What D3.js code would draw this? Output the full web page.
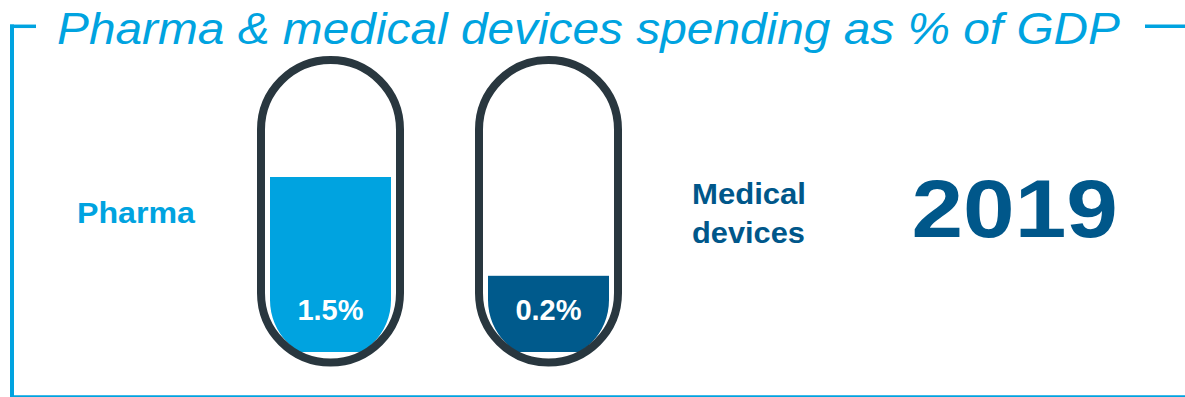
<!DOCTYPE html>
<html>
<head>
<meta charset="utf-8">
<script src="https://cdn.jsdelivr.net/npm/d3@7"></script>
<style>
  html, body { margin: 0; padding: 0; background: #ffffff; }
  svg { display: block; }
  text { font-family: "Liberation Sans", Arial, sans-serif; }
</style>
</head>
<body>
<svg id="chart" width="1185" height="397"></svg>
<script>
// Spending shares of GDP, 2019
const categories = ["Pharma", "Medical devices"];
const values = [1.5, 0.2];
const valueLabels = ["1.5%", "0.2%"];
const yearLabel = "2019";
const titleText = "Pharma & medical devices spending as % of GDP";

const W = 1185, H = 397;
const lightBlue = "#00a3e0";
const darkBlue = "#00578a";
const fillColors = [lightBlue, "#005a8c"];
const labelColors = [lightBlue, darkBlue];
const outline = "#29373f";

const svg = d3.select("#chart");

// Frame: left bracket, short top ticks and a bottom rule
const frame = svg.append("g").attr("stroke", lightBlue).attr("fill", "none");
frame.append("line").attr("x1", 12).attr("x2", 12).attr("y1", 24.5).attr("y2", 397).attr("stroke-width", 4);
frame.append("line").attr("x1", 10).attr("x2", 36).attr("y1", 26.3).attr("y2", 26.3).attr("stroke-width", 3.5);
frame.append("line").attr("x1", 1145).attr("x2", 1185).attr("y1", 26.3).attr("y2", 26.3).attr("stroke-width", 3.5);
frame.append("line").attr("x1", 10).attr("x2", W).attr("y1", 396.2).attr("y2", 396.2).attr("stroke-width", 1.8);

// Title
svg.append("text")
  .attr("x", 57).attr("y", 43.5)
  .attr("font-size", 45).attr("font-style", "italic")
  .attr("fill", lightBlue)
  .attr("textLength", 1063).attr("lengthAdjust", "spacingAndGlyphs")
  .text(titleText);

// Capsule positions
const x = d3.scaleBand()
  .domain(categories)
  .range([257, 622])
  .paddingInner(71 / 218)
  .paddingOuter(0);

// Liquid level: zero sits where the rounded bottom begins
const y = d3.scaleLinear().domain([0, 1.5]).range([291, 177]);

const capTop = 56, capBottom = 366.5, stroke = 8;
const fillBottom = 352, inset = 13, bulbCy = 300;

const defs = svg.append("defs");

categories.forEach((cat, i) => {
  const x0 = x(cat), bw = x.bandwidth();
  const cx = x0 + bw / 2;
  const r = bw / 2 - inset;

  // Inner liquid shape: straight sides with a rounded bottom, flat at the base
  const clipId = "clip-" + i;
  const cp = defs.append("clipPath").attr("id", clipId);
  const p = d3.path();
  p.moveTo(cx - r, 0);
  p.lineTo(cx + r, 0);
  p.lineTo(cx + r, bulbCy);
  p.arc(cx, bulbCy, r, 0, Math.PI, false);
  p.closePath();
  cp.append("path").attr("d", p.toString());

  const g = svg.append("g");

  g.append("rect")
    .attr("clip-path", `url(#${clipId})`)
    .attr("x", cx - r)
    .attr("width", 2 * r)
    .attr("y", y(values[i]))
    .attr("height", fillBottom - y(values[i]))
    .attr("fill", fillColors[i]);

  g.append("rect")
    .attr("x", x0 + stroke / 2)
    .attr("y", capTop + stroke / 2)
    .attr("width", bw - stroke)
    .attr("height", capBottom - capTop - stroke)
    .attr("rx", (bw - stroke) / 2)
    .attr("fill", "none")
    .attr("stroke", outline)
    .attr("stroke-width", stroke);

  g.append("text")
    .attr("x", cx).attr("y", 319.5)
    .attr("text-anchor", "middle")
    .attr("font-size", 29).attr("font-weight", "bold")
    .attr("fill", "#ffffff")
    .text(valueLabels[i]);
});

// Category labels
svg.append("text")
  .attr("x", 77).attr("y", 223.3)
  .attr("font-size", 30).attr("font-weight", "bold")
  .attr("fill", labelColors[0])
  .attr("textLength", 118).attr("lengthAdjust", "spacingAndGlyphs")
  .text(categories[0]);

const md = svg.append("text")
  .attr("font-size", 30).attr("font-weight", "bold")
  .attr("fill", labelColors[1]);
categories[1].split(" ").forEach((w, k) => {
  md.append("tspan")
    .attr("x", 692).attr("y", 204 + k * 38.7)
    .attr("textLength", k === 0 ? 114 : 113).attr("lengthAdjust", "spacingAndGlyphs")
    .text(w);
});

// Year
svg.append("text")
  .attr("x", 911.5).attr("y", 236.7)
  .attr("font-size", 82).attr("font-weight", "bold")
  .attr("fill", darkBlue)
  .attr("textLength", 206.5).attr("lengthAdjust", "spacingAndGlyphs")
  .text(yearLabel);
</script>
</body>
</html>
